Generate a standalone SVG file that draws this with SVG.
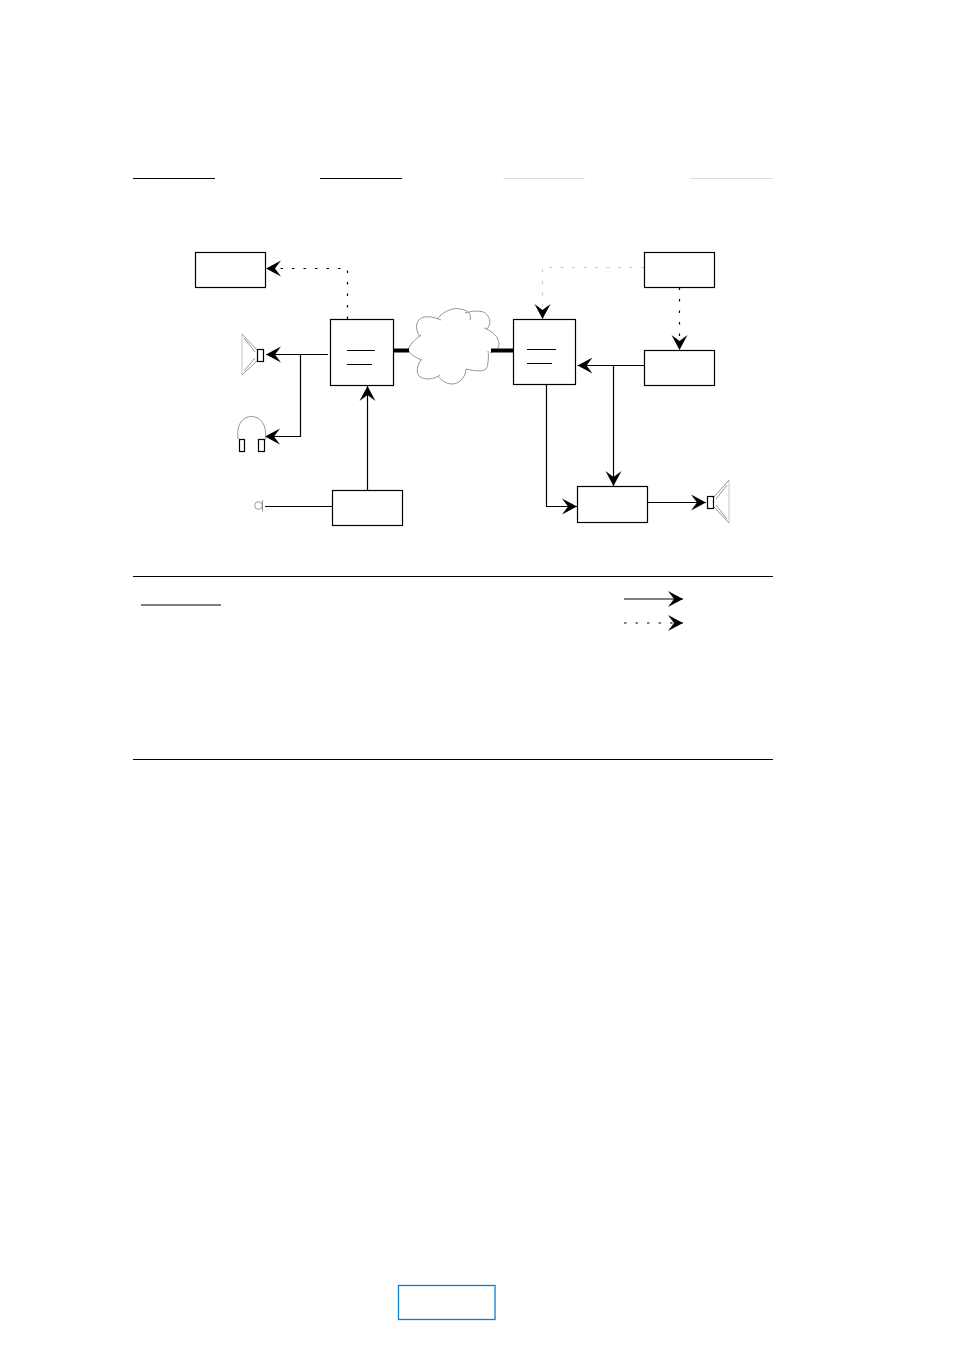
<svg xmlns="http://www.w3.org/2000/svg" width="954" height="1351" viewBox="0 0 954 1351">
<style>
.box{fill:#fff;stroke:#000;stroke-width:1.2}
.ln{fill:none;stroke:#000;stroke-width:1.2}
.gl{fill:none;stroke:#d4d4d4;stroke-width:1.3}
.hd{fill:none;stroke:#ddd;stroke-width:1}
.dot{fill:none;stroke:#000;stroke-width:1.2;stroke-dasharray:2.5 9}
.gdot{fill:none;stroke:#c8c8c8;stroke-width:1.1;stroke-dasharray:3 8.500}
.thin{fill:none;stroke:#8a8a8a;stroke-width:.9}
.fat{fill:none;stroke:#000;stroke-width:4}
.arr{marker-end:url(#ah)}
</style>
<defs>
<marker id="ah" markerUnits="userSpaceOnUse" markerWidth="18" markerHeight="18" refX="16" refY="9" orient="auto">
<path d="M1 1L16 9L1 17L7 9z" fill="#000"/>
</marker>
</defs>
<rect width="954" height="1351" fill="#fff"/>
<g id="headers">
<path class="ln" d="M133 178.500H215M320 178.500H402"/>
<path class="hd" d="M503 178.500H585M690 178.500H773"/>
</g>
<g id="node-cloud">
<path class="thin" d="M408 350C411 342 416 339 421 335M420 337C414 328 416 319 424 317C430 316 436 318 441 320M437 319C443 312 452 307 460 309C468 310 472 314 470 320M465 313C475 310 485 310 488 316C491 321 490 325 487 329M484 328C492 331 499 337 499 344C499 349 495 351 490 353M488 351C489 358 488 366 486 369C482 372 475 371 466 369M466 369C466 376 460 384 452 384C446 384 441 380 438 376M440 375C435 379 424 381 419 376C416 372 417 365 421 360M422 360C416 358 411 355 408 350"/>
</g>
<g id="connectors">
<path class="dot arr" d="M347.500 319V268.500H266"/>
<path class="ln arr" d="M328 354.500H266"/>
<path class="ln arr" d="M300.500 354.500V436.500H265"/>
<path class="ln" d="M265 506.500H332.500"/>
<path class="ln arr" d="M367.500 490.500V386"/>
<path class="fat" d="M393 350.500H409M491 350.500H513"/>
<path class="gdot arr" d="M644 267.500H542.500V319"/>
<path class="dot arr" d="M679.500 287.500V350"/>
<path class="ln arr" d="M644.500 365.500H577.500"/>
<path class="ln arr" d="M613.500 365.500V486"/>
<path class="ln arr" d="M546.500 385V506.500H577"/>
<path class="ln arr" d="M648 502.500H706"/>
</g>
<g id="node-display"><rect class="box" x="195.500" y="252.500" width="70" height="35"/></g>
<g id="node-terminal-a">
<rect class="box" x="330.500" y="319.500" width="63" height="66"/>
<path class="ln" d="M347 350.500H375M347 364.500H372"/>
</g>
<g id="node-speaker-left">
<path class="gl" d="M242 334V375"/>
<path class="thin" d="M242 334L257 350M242 375L257 361M244 338L255 352M244 371L255 358"/>
<rect class="box" x="257.500" y="349.500" width="6" height="12"/>
</g>
<g id="node-headphones">
<path class="thin" d="M238 439C236 424 243 416.500 251.500 416.500C260 416.500 267 424 265.500 439"/>
<rect class="box" x="239.500" y="439.500" width="5" height="12"/>
<rect class="box" x="258.500" y="439.500" width="6" height="12"/>
</g>
<g id="node-mic">
<circle class="thin" cx="258.500" cy="505.500" r="3.800"/>
<path class="thin" d="M262.500 500V511.500"/>
</g>
<g id="node-encoder"><rect class="box" x="332.500" y="490.500" width="70" height="35"/></g>
<g id="node-terminal-b">
<rect class="box" x="513.500" y="319.500" width="62" height="65"/>
<path class="ln" d="M527 349.500H556M527 363.500H552"/>
</g>
<g id="node-source"><rect class="box" x="644.500" y="252.500" width="70" height="35"/></g>
<g id="node-decoder"><rect class="box" x="644.500" y="350.500" width="70" height="35"/></g>
<g id="node-mixer"><rect class="box" x="577.500" y="486.500" width="70" height="36"/></g>
<g id="node-speaker-right">
<path class="gl" d="M729 480V523"/>
<path class="thin" d="M729 480L714 497M729 523L714 507M727 485L716 499M727 519L716 505"/>
<rect class="box" x="707.500" y="496.500" width="6" height="12"/>
</g>
<g id="legend">
<path class="ln" d="M133 576.500H773M133 759.500H773M141 605H221"/>
<path class="ln arr" d="M624 599H683"/>
<path class="dot arr" d="M624 623H683"/>
</g>
<g id="page-box"><rect x="398.500" y="1285.500" width="96.500" height="34" fill="#fff" stroke="#0a7fd2" stroke-width="1.300"/></g>
</svg>
